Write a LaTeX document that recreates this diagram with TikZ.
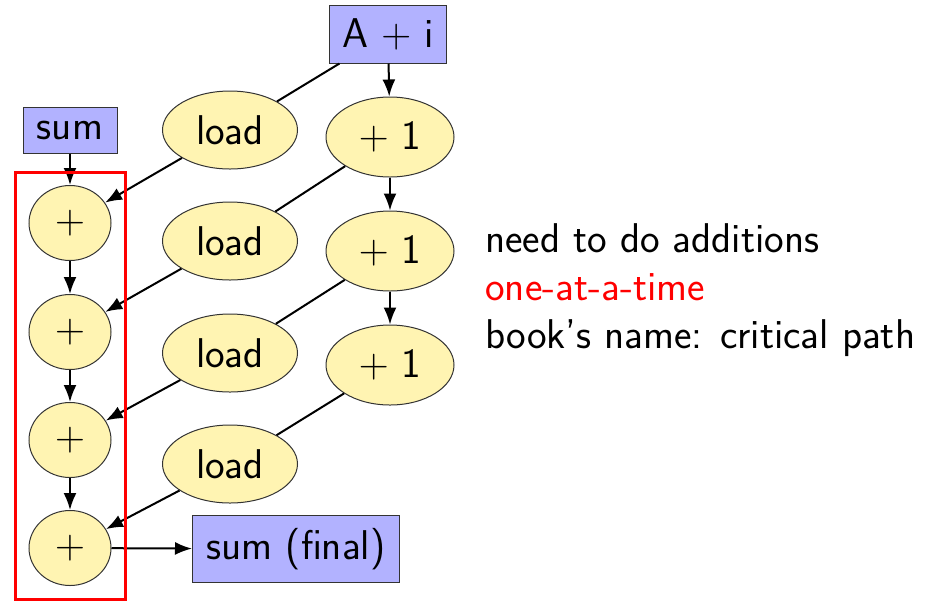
\documentclass[tikz,border=0pt]{standalone}
\usetikzlibrary{shapes.geometric,arrows.meta}
\definecolor{boxblue}{RGB}{178,178,255}
\definecolor{nodeyellow}{RGB}{255,244,178}
\begin{document}
\begin{tikzpicture}[x=0.5pt,y=-0.5pt,
  every node/.style={font=\sffamily\fontsize{20.8}{25}\selectfont},
  bluebox/.style={draw=black!80,line width=0.5pt,fill=boxblue,rectangle,inner sep=0pt},
  yell/.style={draw=black!80,line width=0.5pt,fill=nodeyellow,ellipse,inner sep=0pt},
  conn/.style={line width=1pt},
  arr/.style={line width=1pt,-{Latex[length=8.5pt,width=6.5pt]}}]
\useasboundingbox (0,0) rectangle (936,601);
% boxes
\node[bluebox,minimum width=58.5pt,minimum height=29pt] (ai) at (388,34) {A $+$ i};
\node[bluebox,minimum width=47pt,minimum height=23pt] (sum) at (70,130) {sum};
\node[bluebox,minimum width=103.5pt,minimum height=33.5pt] (final) at (296,549) {sum (final)};
% plus column
\foreach \i/\y in {1/223,2/332,3/440,4/548}
  \node[yell,minimum width=41pt,minimum height=37.5pt] (p\i) at (70,\y) {$+$};
% loads
\foreach \i/\y in {1/130,2/241,3/353,4/464}
  \node[yell,minimum width=67.5pt,minimum height=39pt] (l\i) at (230,\y) {load};
% +1
\foreach \i/\y in {1/137,2/251,3/365}
  \node[yell,minimum width=64pt,minimum height=40pt] (q\i) at (390,\y) {$+$ 1};
% connectors
\draw[arr] (sum) -- (p1);
\draw[arr] (p1) -- (p2);
\draw[arr] (p2) -- (p3);
\draw[arr] (p3) -- (p4);
\draw[arr] (p4) -- (final);
\draw[arr] (ai) -- (q1);
\draw[arr] (q1) -- (q2);
\draw[arr] (q2) -- (q3);
\draw[conn] (ai) -- (l1);
\draw[conn] (q1) -- (l2);
\draw[conn] (q2) -- (l3);
\draw[conn] (q3) -- (l4);
\draw[arr] (l1) -- (p1);
\draw[arr] (l2) -- (p2);
\draw[arr] (l3) -- (p3);
\draw[arr] (l4) -- (p4);
% red box
\node[draw=red,line width=1.5pt,rectangle,inner sep=0pt,minimum width=55pt,minimum height=213.5pt] (crit) at (70,385.5) {};
% text
\node[anchor=base west,inner sep=0pt] (t1) at (485,252) {need to do additions};
\node[anchor=base west,inner sep=0pt,text=red] (t2) at (485,300) {one-at-a-time};
\node[anchor=base west,inner sep=0pt] (t3) at (485,348) {book's name: critical path};
\end{tikzpicture}
\end{document}
